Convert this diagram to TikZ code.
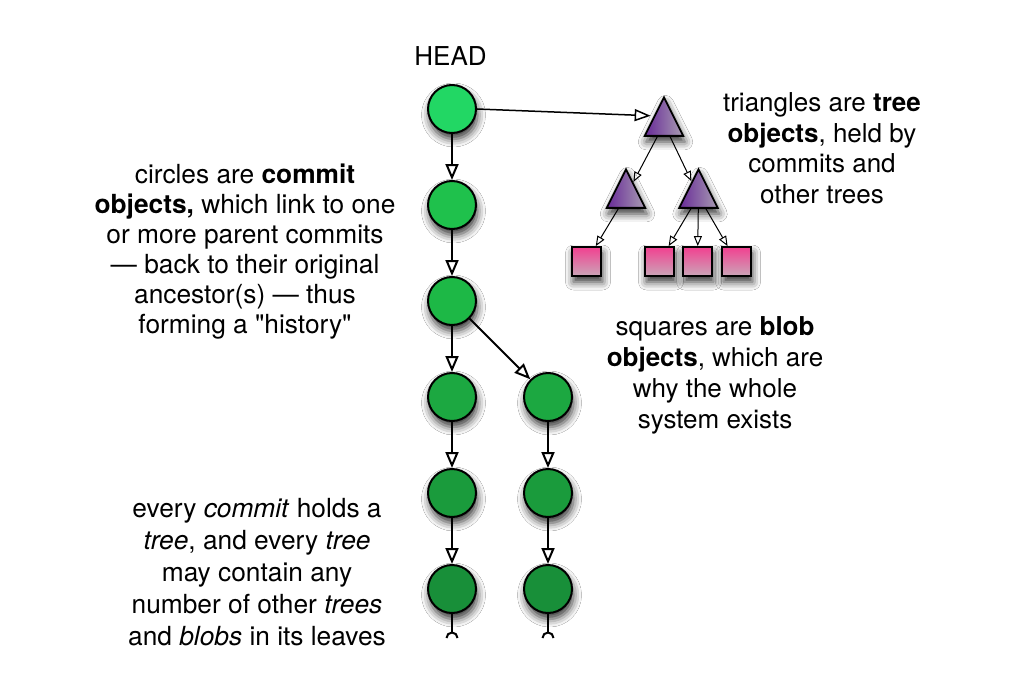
\documentclass[tikz,border=0pt]{standalone}
\usepackage{fontspec}
\setmainfont{TeX Gyre Heros}[Ligatures=TeXOff]
\usetikzlibrary{arrows.meta,shapes.geometric,shadows.blur,calc}
\definecolor{cA}{RGB}{34,215,100}
\definecolor{cB}{RGB}{31,193,76}
\definecolor{cC}{RGB}{29,184,70}
\definecolor{cD}{RGB}{28,168,65}
\definecolor{cE}{RGB}{26,155,60}
\definecolor{cF}{RGB}{24,143,57}
\definecolor{trL}{RGB}{104,42,152}
\definecolor{trR}{RGB}{168,156,178}
\definecolor{blT}{RGB}{242,64,144}
\definecolor{blB}{RGB}{202,166,184}
\begin{document}
\begin{tikzpicture}[x=1pt,y=-1pt,
  shad/.style={blur shadow={shadow xshift=1.5pt,shadow yshift=-6pt,shadow blur radius=8pt,shadow opacity=80}},
  commit/.style={circle,draw=black,line width=2pt,minimum size=48pt,inner sep=0pt,shad},
  tree/.style={isosceles triangle,shape border rotate=90,isosceles triangle stretches,
    minimum width=38.5pt,minimum height=38.5pt,inner sep=0pt,draw=black,line width=1.8pt,
    left color=trL,right color=trR,shad},
  blob/.style={rectangle,minimum size=29pt,inner sep=0pt,draw=black,line width=1.8pt,
    top color=blT,bottom color=blB,shad},
  big/.style={-{Triangle[open,length=16pt,width=13pt]},line width=2pt},
  mid/.style={-{Triangle[open,length=16pt,width=12pt]},line width=1.5pt},
  small/.style={-{Triangle[open,length=10pt,width=8pt]},line width=1pt},
  stub/.style={line width=2pt},
  txt/.style={anchor=base,inner sep=0pt}
]
\fill[white] (0,0) rectangle (1036,690);
\useasboundingbox (0,0) rectangle (1036,690);

% commits
\node[commit,fill=cA] (c1) at (452,109) {};
\node[commit,fill=cB] (c2) at (452,205) {};
\node[commit,fill=cC] (c3) at (452,301) {};
\node[commit,fill=cD] (c4) at (452,397) {};
\node[commit,fill=cE] (c5) at (452,493) {};
\node[commit,fill=cF] (c6) at (452,589) {};
\node[commit,fill=cD] (d1) at (548,397) {};
\node[commit,fill=cE] (d2) at (548,493) {};
\node[commit,fill=cF] (d3) at (548,589) {};

% trees
\node[tree,anchor=apex] (t1) at (664,95) {};
\node[tree,anchor=apex] (t2) at (626,167) {};
\node[tree,anchor=apex] (t3) at (698.5,167) {};

% blobs
\node[blob] (b1) at (586.5,261.5) {};
\node[blob] (b2) at (659.5,261.5) {};
\node[blob] (b3) at (697.5,261.5) {};
\node[blob] (b4) at (736.5,261.5) {};

% commit links
\draw[big] (c1) -- (c2);
\draw[big] (c2) -- (c3);
\draw[big] (c3) -- (c4);
\draw[big] (c4) -- (c5);
\draw[big] (c5) -- (c6);
\draw[big] (c3) -- (d1);
\draw[big] (d1) -- (d2);
\draw[big] (d2) -- (d3);

% stubs
\coordinate (e1) at (452,632.5);
\coordinate (e2) at (548,632.5);
\draw[stub] (c6) -- (e1);
\draw[stub] (d3) -- (e2);
\draw[stub] (e1) ++(-5.5,5.5) arc[start angle=180,end angle=360,radius=5.5];
\draw[stub] (e2) ++(-5.5,5.5) arc[start angle=180,end angle=360,radius=5.5];

% head to tree
\draw[mid,shorten >=3pt] (c1.east) -- ($(t1.apex)!0.5!(t1.left corner)$);

% tree links
\draw[small] (t1) -- (t2);
\draw[small] (t1) -- (t3);
\draw[small] (t2) -- (b1);
\draw[small] (t3) -- (b2);
\draw[small] (t3) -- (b3);
\draw[small] (t3) -- (b4);

% texts
\node[txt,font=\fontsize{26}{30}\selectfont] (head) at (450.5,66) {HEAD};
\node[txt,font=\fontsize{26.3}{30}\selectfont] (tc) at (245,183) {\begin{tabular}[t]{@{}c@{}}
circles are \textbf{commit}\\
\textbf{objects,} which link to one\\
or more parent commits\\
— back to their original\\
ancestor(s) — thus\\
forming a "history"\end{tabular}};
\node[txt,font=\fontsize{26}{30.5}\selectfont] (tt) at (822,112) {\begin{tabular}[t]{@{}c@{}}
triangles are \textbf{tree}\\
\textbf{objects}, held by\\
commits and\\
other trees\end{tabular}};
\node[txt,font=\fontsize{26}{31}\selectfont] (tb) at (715,335) {\begin{tabular}[t]{@{}c@{}}
squares are \textbf{blob}\\
\textbf{objects}, which are\\
why the whole\\
system exists\end{tabular}};
\node[txt,font=\fontsize{26.3}{32}\selectfont] (te) at (257,517) {\begin{tabular}[t]{@{}c@{}}
every \textit{commit} holds a\\
\textit{tree}, and every \textit{tree}\\
may contain any\\
number of other \textit{trees}\\
and \textit{blobs} in its leaves\end{tabular}};
\end{tikzpicture}
\end{document}
